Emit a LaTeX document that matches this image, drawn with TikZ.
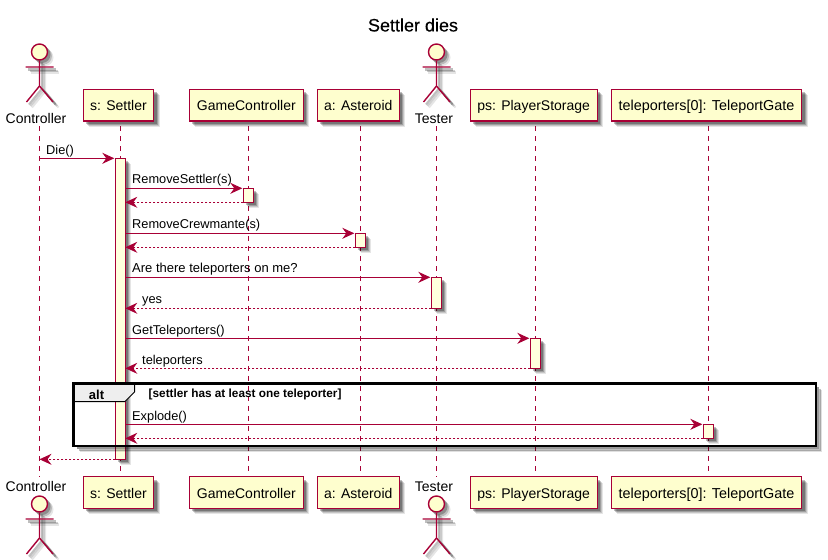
\documentclass[tikz,border=0pt]{standalone}
\usepackage{fontspec}
\setmainfont{Liberation Sans}
\newfontface\titlefont{Liberation Sans}[FakeBold=0.35]
\usetikzlibrary{arrows.meta}
\definecolor{pu}{HTML}{A80036}
\definecolor{pbg}{HTML}{FEFECE}
\definecolor{acbg}{HTML}{FFFFDD}
\definecolor{tabbg}{HTML}{EEEEEE}
\tikzset{
  shadowlayer/.style args={#1 at #2}{preaction={draw=none,fill=black,opacity=#1,
    transform canvas={shift={(#2pt,-#2pt)}}}},
  softshadow/.style={shadowlayer=.10 at 6,shadowlayer=.14 at 5,shadowlayer=.20 at 4,shadowlayer=.25 at 3},
  pbox/.style={draw=pu,line width=1.1pt,fill=pbg,inner sep=0pt,outer sep=0pt,minimum height=31.5pt,
    text height=12pt,text depth=1pt,font=\fontsize{14}{16}\selectfont,softshadow},
  acbox/.style={draw=pu,line width=1pt,fill=acbg,inner sep=0pt,outer sep=0pt,minimum width=10pt,softshadow},
  life/.style={draw=pu,line width=1pt,dash pattern=on 5pt off 5pt},
  msg/.style={draw=pu,line width=1pt,-{Stealth[length=12pt,width=11pt,inset=4pt]},shorten >=1pt},
  ret/.style={draw=pu,line width=1pt,dash pattern=on 2pt off 2pt,
    -{Stealth[length=12pt,width=11pt,inset=4pt,sep=0pt]}},
  lab/.style={anchor=west,inner sep=0pt,text height=11.5pt,text depth=1.5pt,font=\fontsize{12.8}{15}\selectfont},
  actname/.style={inner sep=0pt,text height=12pt,text depth=1pt,font=\fontsize{14}{16}\selectfont},
  head/.style={circle,draw=pu,line width=1.4pt,fill=pbg,inner sep=0pt,minimum size=16pt},
  limb/.style={draw=pu,line width=1.4pt},
  frameline/.style={draw=black,line width=2.2pt},
}
\newcommand{\stick}[3]{% name, x, head y
  \foreach \o/\w in {2.5/.25,4/.18,5.5/.1}{
    \draw[draw=black,opacity=\w,line width=2.5pt]
      (#2-14+\o,#3+15+\o)--(#2+14+\o,#3+15+\o);
    \draw[draw=black,opacity=\w,line width=2pt]
      (#2+\o,#3+8+\o)--(#2+\o,#3+34+\o)--(#2-13+\o,#3+50+\o)
      (#2+\o,#3+34+\o)--(#2+13.5+\o,#3+50+\o);
    \fill[black,opacity=\w] (#2+\o,#3+\o) circle (8.5);
  }
  \node[head] (#1) at (#2,#3) {};
  \draw[limb] (#1.south)--(#2,#3+34) (#2-14,#3+15)--(#2+14,#3+15)
     (#2,#3+34)--(#2-13,#3+50) (#2,#3+34)--(#2+13.5,#3+50);
}
\begin{document}
\begin{tikzpicture}[x=1pt,y=-1pt]
\useasboundingbox (0,0) rectangle (828,560);
\node[inner sep=0pt,font=\titlefont\fontsize{18}{20}\selectfont] (title) at (413,25) {Settler dies};

% lifeline ends
\coordinate (ctrlT) at (39.5,126);
\coordinate (ctrlB) at (39.5,477);
\coordinate (sT) at (120.5,126);
\coordinate (sB) at (120.5,472);
\coordinate (gT) at (248.5,126);
\coordinate (gB) at (248.5,472);
\coordinate (aT) at (360.5,126);
\coordinate (aB) at (360.5,472);
\coordinate (teT) at (436.5,126);
\coordinate (teB) at (436.5,477);
\coordinate (pT) at (535.5,126);
\coordinate (pB) at (535.5,472);
\coordinate (qT) at (708.5,126);
\coordinate (qB) at (708.5,472);
\foreach \n in {ctrl,s,g,a,te,p,q}{\draw[life] (\n T)--(\n B);}

% actors
\stick{ctop}{39.5}{52}
\stick{tetop}{436.5}{52}
\stick{cbot}{39.5}{504}
\stick{tebot}{436.5}{504}
\node[actname] (ctlab) at (36,118) {Controller};
\node[actname] (telab) at (434,118) {Tester};
\node[actname] (ctlabb) at (36,486) {Controller};
\node[actname] (telabb) at (434,486) {Tester};

% participants
\foreach \n/\c/\w/\t in {
  s/118.5/70.4/{s: Settler},
  g/246.4/114/{GameController},
  a/358.3/82/{a: Asteroid},
  p/533.7/127.3/{ps: PlayerStorage},
  q/706.5/190.4/{\fontsize{14.4}{16}\selectfont teleporters[0]: TeleportGate}}{
  \node[pbox,minimum width=\w pt] (\n top) at (\c,105.2) {\t};
  \node[pbox,minimum width=\w pt] (\n bot) at (\c,492.5) {\t};
}

% activations
\node[acbox,minimum height=301pt] (sAct) at (120.3,308.8) {};
\node[acbox,minimum height=14pt] (gAct) at (248.3,195.3) {};
\node[acbox,minimum height=14pt] (aAct) at (360.3,240.3) {};
\node[acbox,minimum height=31pt] (tAct) at (436.3,292.8) {};
\node[acbox,minimum height=30pt] (pAct) at (535.3,353.3) {};
\node[acbox,minimum height=14pt] (qAct) at (708.3,431.3) {};

% alt frame
\foreach \o/\w in {2/.4,3.5/.25,5/.12}{
  \draw[draw=black,opacity=\w,line width=2pt]
    (816+\o,385+\o)--(816+\o,446+\o)--(75+\o,446+\o);
}
\coordinate (fTL) at (73.5,383.5);
\coordinate (fBR) at (816,446);
\coordinate (tabA) at (134.5,383.5);
\coordinate (tabB) at (134.5,392);
\coordinate (tabC) at (125,401.5);
\coordinate (tabD) at (73.5,401.5);
\fill[tabbg] (fTL)--(tabA)--(tabB)--(tabC)--(tabD)--cycle;
\draw[draw=black,line width=1pt] (tabA)--(tabB)--(tabC)--(tabD);
\draw[frameline] (fTL) rectangle (fBR);
\node[inner sep=0pt,text height=11.5pt,text depth=1.5pt,font=\bfseries\fontsize{13}{15}\selectfont] (altlab) at (96.5,394) {alt};
\node[inner sep=0pt,anchor=west,text height=10pt,text depth=0.5pt,font=\bfseries\fontsize{11.8}{13}\selectfont] (guard) at (148.5,393) {[settler has at least one teleporter]};

% messages
\draw[msg] (ctrlT |- sAct.north west)--(sAct.north west);
\node[lab] (l1) at (46,149) {Die()};
\draw[msg] (sAct.east |- gAct.north west)--(gAct.north west);
\draw[ret] (gAct.south west)--(sAct.east |- gAct.south west);
\node[lab] (l2) at (132,178.5) {RemoveSettler(s)};
\draw[msg] (sAct.east |- aAct.north west)--(aAct.north west);
\draw[ret] (aAct.south west)--(sAct.east |- aAct.south west);
\node[lab] (l3) at (132,223) {RemoveCrewmante(s)};
\draw[msg] (sAct.east |- tAct.north west)--(tAct.north west);
\draw[ret] (tAct.south west)--(sAct.east |- tAct.south west);
\node[lab,font=\fontsize{13}{15}\selectfont] (l4) at (132,267.5) {Are there teleporters on me?};
\node[lab] (l5) at (142,298) {yes};
\draw[msg] (sAct.east |- pAct.north west)--(pAct.north west);
\draw[ret] (pAct.south west)--(sAct.east |- pAct.south west);
\node[lab] (l6) at (132,329) {GetTeleporters()};
\node[lab] (l7) at (142,359) {teleporters};
\draw[msg] (sAct.east |- qAct.north west)--(qAct.north west);
\draw[ret] (qAct.south west)--(sAct.east |- qAct.south west);
\node[lab] (l8) at (132,415) {Explode()};
\draw[ret] (sAct.south west)--(ctrlT |- sAct.south west);
\end{tikzpicture}
\end{document}
